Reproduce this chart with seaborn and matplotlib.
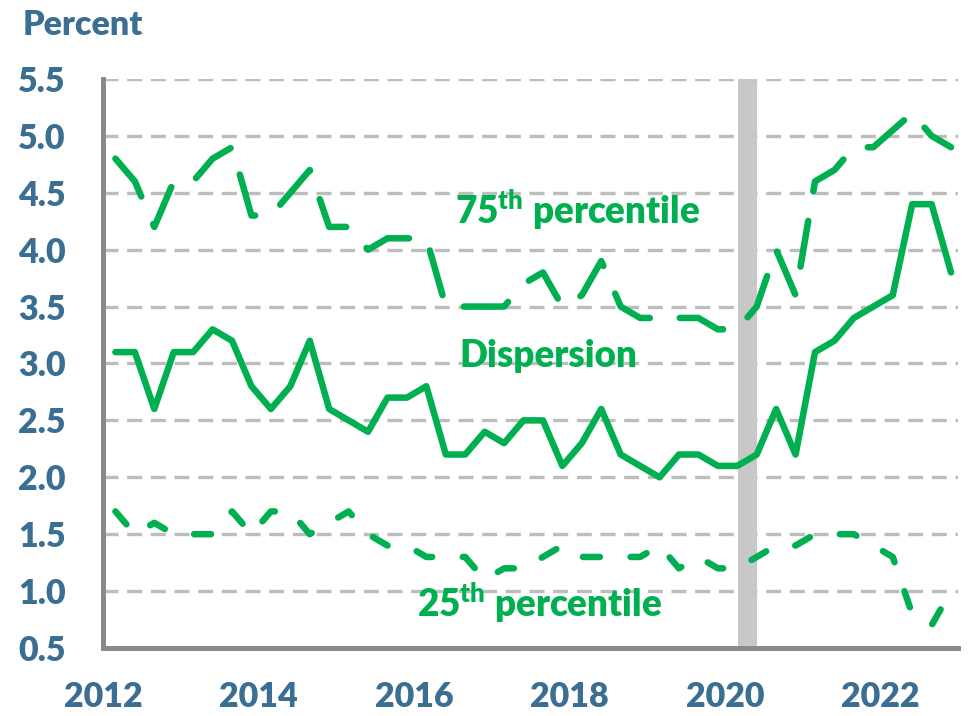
import numpy as np
import pandas as pd
import seaborn as sns
import matplotlib.pyplot as plt
from matplotlib.ticker import MultipleLocator, FormatStrFormatter

# quarterly readings, 2012Q1 - 2022Q4 (percent)
quarters = pd.period_range("2012Q1", "2022Q4", freq="Q")

dispersion = [3.1, 3.1, 2.6, 3.1, 3.1, 3.3, 3.2, 2.8, 2.6, 2.8, 3.2,
              2.6, 2.5, 2.4, 2.7, 2.7, 2.8, 2.2, 2.2, 2.4, 2.3, 2.5,
              2.5, 2.1, 2.3, 2.6, 2.2, 2.1, 2.0, 2.2, 2.2, 2.1, 2.1,
              2.2, 2.6, 2.2, 3.1, 3.2, 3.4, 3.5, 3.6, 4.4, 4.4, 3.8]

pct75 = [4.8, 4.6, 4.2, 4.6, 4.6, 4.8, 4.9, 4.3, 4.3, 4.5, 4.7,
         4.2, 4.2, 4.0, 4.1, 4.1, 4.1, 3.5, 3.5, 3.5, 3.5, 3.7,
         3.8, 3.5, 3.6, 3.9, 3.5, 3.4, 3.4, 3.4, 3.4, 3.3, 3.3,
         3.5, 4.0, 3.6, 4.6, 4.7, 4.9, 4.9, 5.05, 5.2, 5.0, 4.9]

pct25 = [1.7, 1.5, 1.6, 1.5, 1.5, 1.5, 1.7, 1.5, 1.7, 1.7, 1.5,
         1.6, 1.7, 1.5, 1.4, 1.4, 1.3, 1.3, 1.3, 1.1, 1.2, 1.2,
         1.3, 1.4, 1.3, 1.3, 1.3, 1.3, 1.4, 1.2, 1.3, 1.2, 1.2,
         1.3, 1.4, 1.4, 1.5, 1.5, 1.5, 1.4, 1.3, 0.8, 0.7, 1.0]

recession = (2020.17, 2020.42)

GREEN = "#00B050"
BLUE = "#3A6E92"
GRAY = "#8A8A8A"

# decimal year, plotted a bit into each quarter
t = quarters.year + (quarters.quarter - 1) / 4 + 0.16

df = pd.DataFrame({"t": t, "Dispersion": dispersion,
                   "75th": pct75, "25th": pct25})
long = df.melt(id_vars="t", var_name="series", value_name="value")

sns.set_style("white")
plt.rcParams["font.family"] = ["Lato", "DejaVu Sans"]
plt.rcParams["mathtext.fontset"] = "custom"
plt.rcParams["mathtext.bf"] = "Lato:heavy"
plt.rcParams["mathtext.rm"] = "Lato"

fig = plt.figure(figsize=(9.68, 7.16), dpi=100)
ax = fig.add_axes([0.1064, 0.095, 0.8833, 0.7947])

# recession bar
ax.axvspan(*recession, color="#C8C8C8", lw=0, zorder=1)

sns.lineplot(data=long, x="t", y="value", hue="series", style="series",
             palette={"Dispersion": GREEN, "75th": GREEN, "25th": GREEN},
             dashes={"Dispersion": "", "75th": (7.1, 4.6), "25th": (2.6, 4.7)},
             estimator=None, lw=4.7, legend=False, ax=ax, zorder=3,
             solid_capstyle="round", dash_capstyle="round",
             solid_joinstyle="round", dash_joinstyle="round")

ax.set_xlim(2012, 2023)
ax.set_ylim(0.5, 5.5)
ax.set_xlabel("")
ax.set_ylabel("")

# gridlines
ax.yaxis.set_major_locator(MultipleLocator(0.5))
ax.yaxis.set_major_formatter(FormatStrFormatter("%.1f"))
ax.grid(axis="y", color="#BDBDBD", lw=2.4, linestyle=(0, (4.5, 2.6)), zorder=0)
ax.grid(axis="x", visible=False)
ax.set_axisbelow(True)

ax.xaxis.set_major_locator(MultipleLocator(2))
ax.xaxis.set_minor_locator(MultipleLocator(0.25))
ax.xaxis.remove_overlapping_locs = False

for s in ["top", "right"]:
    ax.spines[s].set_visible(False)
for s in ["left", "bottom"]:
    ax.spines[s].set_color(GRAY)
    ax.spines[s].set_linewidth(3.6)

ax.tick_params(axis="x", which="major", direction="out", length=9, width=3.6,
               color=GRAY, pad=15, labelsize=24.5, labelcolor=BLUE)
ax.tick_params(axis="x", which="minor", direction="in", length=5, width=3.2,
               color=GRAY)
ax.tick_params(axis="y", which="major", direction="in", length=11.5, width=3.6,
               color=GRAY, pad=27, labelsize=24.5, labelcolor=BLUE)
for lab in ax.get_xticklabels() + ax.get_yticklabels():
    lab.set_fontweight("heavy")

# series labels
lab_kw = dict(color=GREEN, fontsize=26.5, fontweight="heavy",
              ha="center", va="baseline")
ax.text(2018.1, 4.22, r"75$^{\mathbf{th}}$ percentile", **lab_kw)
ax.text(2017.73, 2.965, "Dispersion", **lab_kw)
ax.text(2017.62, 0.77, r"25$^{\mathbf{th}}$ percentile", **lab_kw)

fig.text(23 / 968, 1 - 35 / 716, "Percent", color=BLUE, fontsize=24.5,
         fontweight="heavy", ha="left", va="baseline")

fig.savefig("out.png", dpi=100)
